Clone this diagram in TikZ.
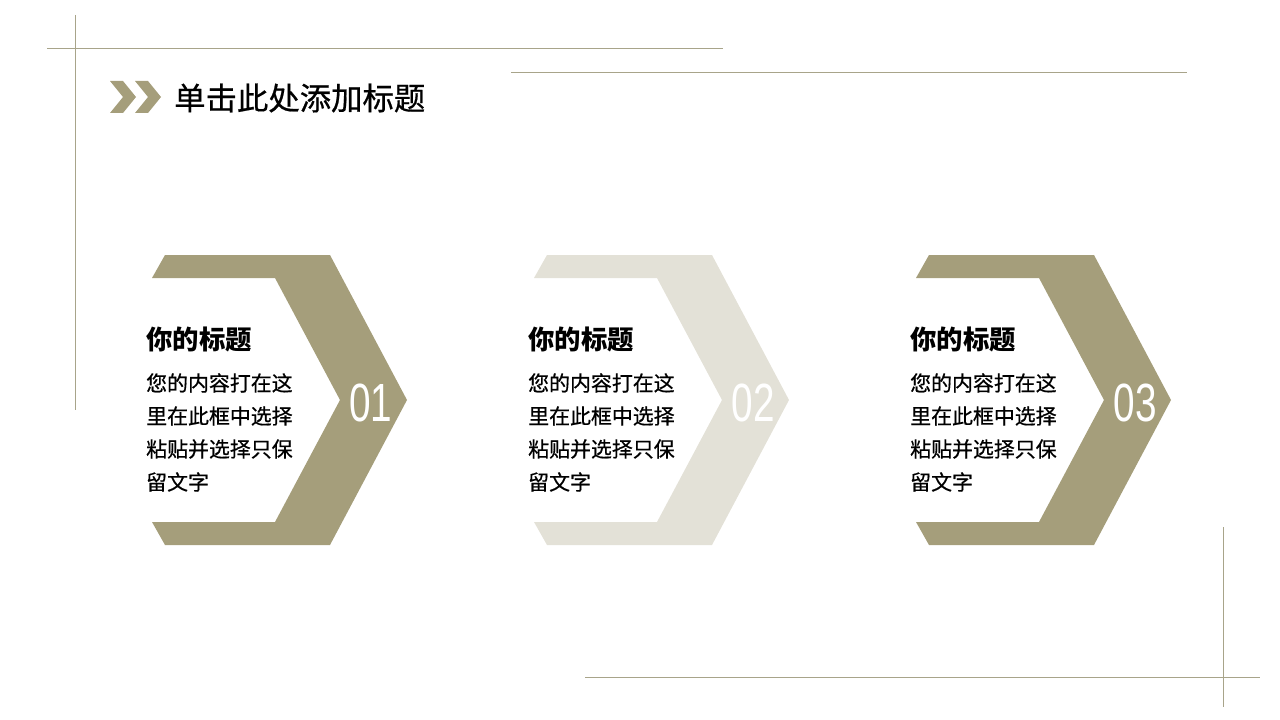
\documentclass[tikz,border=0pt]{standalone}
\usepackage{fontspec}
\newfontfamily\cjk{Noto Sans CJK SC}
\newfontfamily\cjkmed[FakeBold=0.6]{Noto Sans CJK SC}
\newfontfamily\numfont{Liberation Sans}
\usetikzlibrary{positioning}
\definecolor{khaki}{HTML}{A59E7B}
\definecolor{pale}{HTML}{E3E1D7}
\definecolor{rulecol}{HTML}{A8A48A}

\tikzset{
  frame/.style={draw=rulecol, line width=0.8bp},
  heading/.style={font=\cjk\bfseries\fontsize{26.5}{30}\selectfont, anchor=west, inner sep=0pt},
  bodyline/.style={font=\cjkmed\fontsize{21}{33}\selectfont, anchor=west, inner sep=0pt},
  bignum/.style={font=\numfont\fontsize{54}{60}\selectfont, text=white, xscale=0.72, inner sep=0pt}
}

\begin{document}
\begin{tikzpicture}[x=1bp,y=-1bp]
\useasboundingbox (0,0) rectangle (1280,720);

% frame lines
\draw[frame] (47,48) -- (723,48);
\draw[frame] (75,15) -- (75,410);
\draw[frame] (511,72) -- (1187,72);
\draw[frame] (1223,527) -- (1223,707);
\draw[frame] (585,677) -- (1260,677);

% title
\fill[khaki] (110,81) -- (123,81) -- (136,97) -- (123,113) -- (110,113) -- (123,97) -- cycle;
\fill[khaki] (135,81) -- (148,81) -- (161,97) -- (148,113) -- (135,113) -- (148,97) -- cycle;
\node[font=\cjkmed\fontsize{31.5}{36}\selectfont, anchor=west, inner sep=0pt] (title) at (174,98) {单击此处添加标题};

% three chevrons
\foreach \i/\col/\num in {0/khaki/01,1/pale/02,2/khaki/03}{
  \begin{scope}[shift={(382*\i,0)}]
    \fill[\col] (165,255) -- (330,255) -- (407,400) -- (330,545) -- (165,545)
      -- (152,522) -- (275,522) -- (340,400) -- (275,278) -- (152,278) -- cycle;
    \node[bignum] (num\num) at (371,403) {\num};
    \node[heading] (head\num) at (146,339) {你的标题};
    \node[bodyline] (body\num a) at (146,383) {您的内容打在这};
    \node[bodyline] (body\num b) at (146,416) {里在此框中选择};
    \node[bodyline] (body\num c) at (146,449) {粘贴并选择只保};
    \node[bodyline] (body\num d) at (146,482) {留文字};
  \end{scope}
}
\end{tikzpicture}
\end{document}
